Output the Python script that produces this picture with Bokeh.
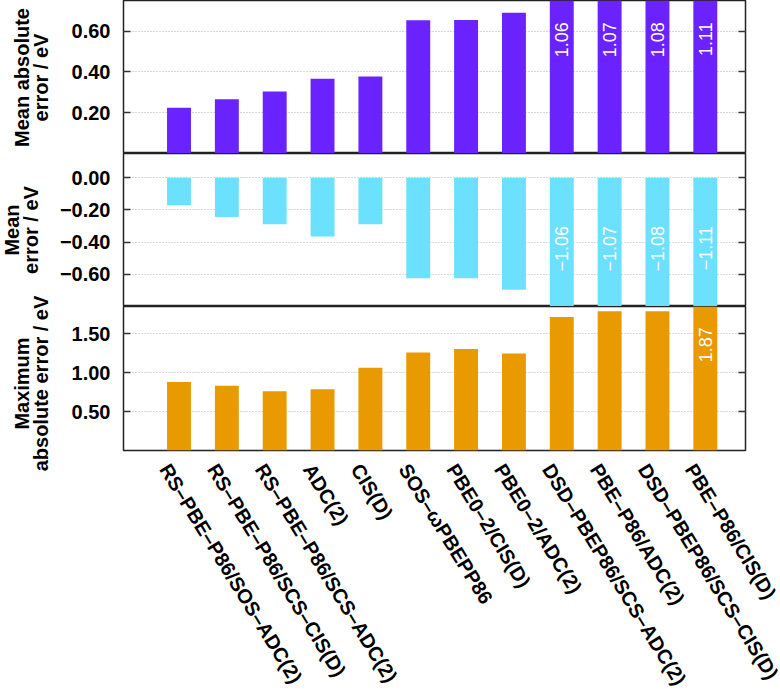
import math
from bokeh.plotting import figure
from bokeh.models import ColumnDataSource, Range1d, FixedTicker, LinearAxis, CustomJSTickFormatter
from bokeh.layouts import column, row
from bokeh.embed import file_html
from bokeh.resources import INLINE
from bokeh.core.properties import value

methods = ["RS\u2013PBE\u2013P86/SOS\u2013ADC(2)", "RS\u2013PBE\u2013P86/SCS\u2013CIS(D)",
           "RS\u2013PBE\u2013P86/SCS\u2013ADC(2)", "ADC(2)", "CIS(D)", "SOS\u2013\u03c9PBEPP86",
           "PBE0\u20132/CIS(D)", "PBE0\u20132/ADC(2)", "DSD\u2013PBEP86/SCS\u2013ADC(2)",
           "PBE\u2013P86/ADC(2)", "DSD\u2013PBEP86/SCS\u2013CIS(D)", "PBE\u2013P86/CIS(D)"]
mae = [0.224, 0.266, 0.304, 0.367, 0.377, 0.653, 0.655, 0.690, 1.06, 1.07, 1.08, 1.11]
me = [-0.172, -0.245, -0.29, -0.365, -0.29, -0.625, -0.625, -0.696, -1.06, -1.07, -1.08, -1.11]
maxae = [0.879, 0.831, 0.76, 0.786, 1.064, 1.26, 1.305, 1.245, 1.714, 1.79, 1.79, 1.87]

mae_ticks = [0.2, 0.4, 0.6]
me_ticks = [0.0, -0.2, -0.4, -0.6]
max_ticks = [0.5, 1.0, 1.5]

ylabel_lines = [["Mean absolute", "error / eV"], ["Mean", "error / eV"],
                ["Maximum", "absolute error / eV"]]

FONT = "Liberation Sans"
xs = list(range(len(methods)))
fmt_code = "return (tick < -1e-9 ? '\u2212' : '') + Math.abs(tick).toFixed(2);"

W, H = 780, 697
STRIP = 56
PANEL_H = 153
BOTTOM = 238
LEFT = 65
RIGHT = 35
XSHIFT = 0.3


def make_fig(h, yr, ticks, vals, color, label_y, bottom=False):
    p = figure(width=W - STRIP, height=h, x_range=Range1d(-1.16, 11.84), y_range=Range1d(*yr),
               output_backend="svg", toolbar_location=None,
               x_axis_location="below" if bottom else None,
               min_border_left=LEFT, min_border_right=RIGHT, min_border_top=0,
               min_border_bottom=BOTTOM if bottom else 0)
    p.outline_line_color = "#222222"
    p.outline_line_width = 1.5
    p.xgrid.visible = False
    p.ygrid.ticker = FixedTicker(ticks=ticks)
    p.ygrid.grid_line_color = "#b0b0b0"
    p.ygrid.grid_line_dash = "1 2"
    p.ygrid.grid_line_width = 1

    ax = p.yaxis[0]
    ax.ticker = FixedTicker(ticks=ticks)
    ax.formatter = CustomJSTickFormatter(code=fmt_code)
    ax.axis_line_color = None
    ax.major_tick_in = 7
    ax.major_tick_out = 0
    ax.major_tick_line_color = "#333333"
    ax.major_tick_line_width = 1.5
    ax.minor_tick_line_color = None
    ax.major_label_text_font = FONT
    ax.major_label_text_font_style = "bold"
    ax.major_label_text_font_size = "20px"
    ax.major_label_text_color = "black"
    ax.major_label_standoff = 13

    rax = LinearAxis(ticker=FixedTicker(ticks=ticks),
                     formatter=CustomJSTickFormatter(code="return '';"))
    rax.axis_line_color = None
    rax.major_tick_in = 7
    rax.major_tick_out = 0
    rax.major_tick_line_color = "#333333"
    rax.major_tick_line_width = 1.5
    rax.minor_tick_line_color = None
    rax.major_label_standoff = 0
    p.add_layout(rax, "right")

    src = ColumnDataSource(dict(x=xs, top=vals))
    p.vbar(x="x", top="top", bottom=0, width=0.5, source=src, fill_color=color, line_color=None)

    lo, hi = yr
    lx, ly, lt = [], [], []
    for x, v in zip(xs, vals):
        if v > hi or v < lo:
            lx.append(x)
            ly.append(label_y)
            lt.append(("\u2212" if v < 0 else "") + "%.2f" % abs(v))
    lsrc = ColumnDataSource(dict(x=lx, y=ly, t=lt))
    p.text(x="x", y="y", text="t", source=lsrc, angle=math.pi / 2, text_align="right",
           text_baseline="middle", text_color="white", text_font=value(FONT),
           text_font_size="18px")

    if bottom:
        xa = p.xaxis[0]
        xa.ticker = FixedTicker(ticks=[x - XSHIFT for x in xs])
        xa.formatter = CustomJSTickFormatter(args=dict(labels=methods, shift=XSHIFT),
                                             code="return labels[Math.round(tick + shift)];")
        xa.axis_line_color = None
        xa.major_tick_line_color = None
        xa.minor_tick_line_color = None
        xa.major_label_orientation = -1.02
        xa.major_label_standoff = 9
        xa.major_label_text_font = FONT
        xa.major_label_text_font_style = "bold"
        xa.major_label_text_font_size = "20px"
        xa.major_label_text_color = "black"
    return p


p1 = make_fig(PANEL_H, (0.0, 0.75), mae_ticks, mae, "#6a22ff", 0.643)
p2 = make_fig(PANEL_H, (-0.80, 0.15), me_ticks, me, "#6ce0ff", -0.30)
p3 = make_fig(PANEL_H + BOTTOM, (0.0, 1.85), max_ticks, maxae, "#e89a00", 1.585, bottom=True)

# left strip holding the two-line y-axis titles (they may overhang panel boundaries)
strip = figure(width=STRIP, height=H, x_range=Range1d(0, STRIP), y_range=Range1d(H, 0),
               output_backend="svg", toolbar_location=None, x_axis_location=None,
               y_axis_location=None, min_border=0)
strip.outline_line_color = None
strip.grid.visible = False
tx, ty, tt = [], [], []
centers = [PANEL_H * 0.5 + 0.5, PANEL_H * 1.5, PANEL_H * 2.5 + 0.5]
first_mid = [21, 11, 21]
for k, lines in enumerate(ylabel_lines):
    for j, line in enumerate(lines):
        tx.append(first_mid[k] + 19 * j)
        ty.append(centers[k])
        tt.append(line)
strip.text(x="x", y="y", text="t", source=ColumnDataSource(dict(x=tx, y=ty, t=tt)),
           angle=math.pi / 2, text_align="center", text_baseline="middle",
           text_color="black", text_font=value(FONT), text_font_style="bold",
           text_font_size="20px")

layout = row(strip, column(p1, p2, p3, spacing=0), spacing=0)
open("out.html", "w").write(file_html(layout, INLINE))
